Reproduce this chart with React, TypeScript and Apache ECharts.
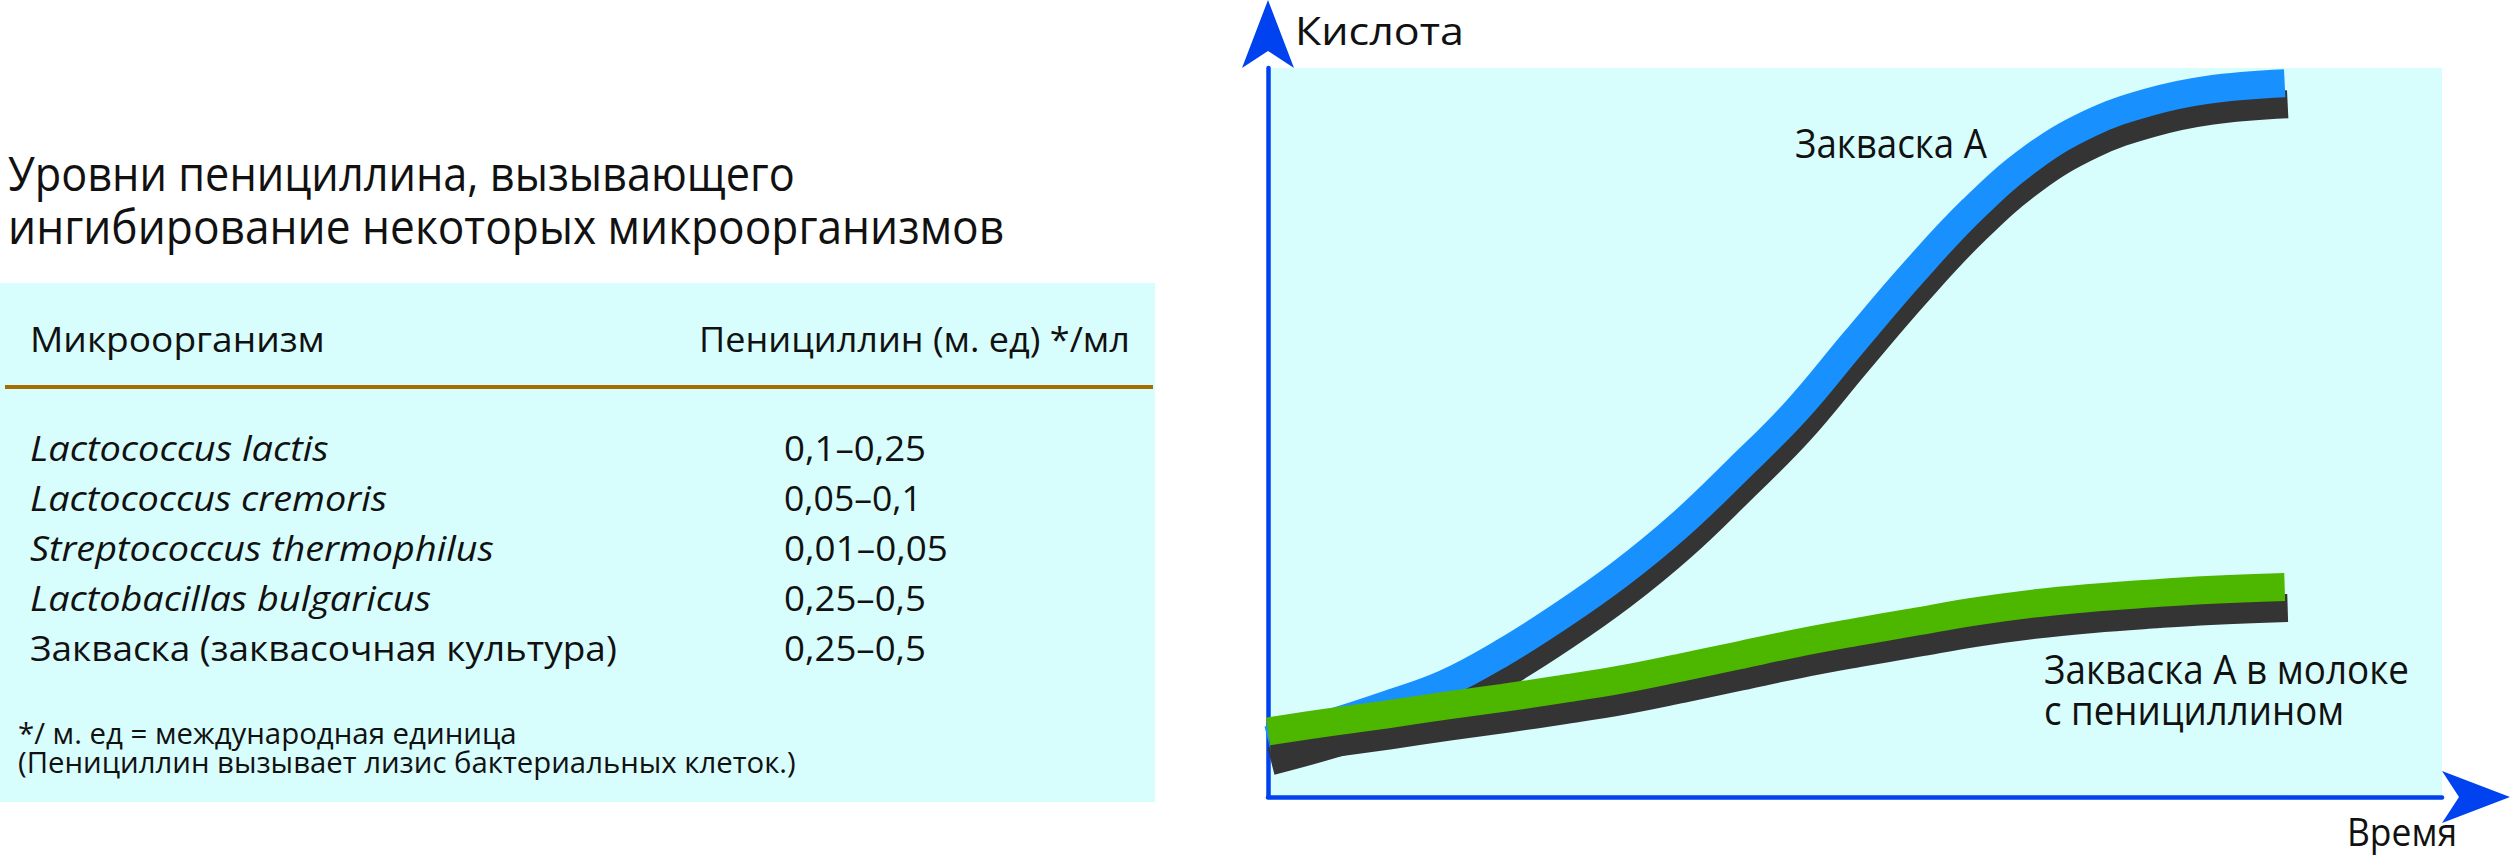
import React, { useEffect, useRef } from "react";
import * as echarts from "echarts";

// ---------- Data ----------
const titleLines = ["Уровни пенициллина, вызывающего", "ингибирование некоторых микроорганизмов"];
const columnHeaders = ["Микроорганизм", "Пенициллин (м. ед) */мл"];
const organisms = [
  "Lactococcus lactis",
  "Lactococcus cremoris",
  "Streptococcus thermophilus",
  "Lactobacillas bulgaricus",
  "Закваска (заквасочная культура)",
];
const organismItalic = [true, true, true, true, false];
const penicillinLevels = ["0,1–0,25", "0,05–0,1", "0,01–0,05", "0,25–0,5", "0,25–0,5"];
const footnotes = ["*/ м. ед = международная единица", "(Пенициллин вызывает лизис бактериальных клеток.)"];

const timeValues = [0, 5, 10, 15, 20, 25, 30, 35, 40, 45, 50, 55, 60, 65, 70, 75, 80, 86.6];
const acidStarterA = [7.8, 10.0, 12.6, 15.5, 19.8, 24.9, 30.6, 37.2, 44.9, 53.0, 62.6, 72.0, 80.6, 87.6, 92.4, 95.3, 97.0, 97.9];
const acidStarterAPenicillin = [9.0, 10.2, 11.3, 12.5, 13.6, 14.8, 16.1, 17.7, 19.4, 21.1, 22.6, 24.0, 25.4, 26.5, 27.3, 27.9, 28.4, 28.8];
const yAxisName = "Кислота";
const xAxisName = "Время";
const curveLabels = ["Закваска А", "Закваска А в молоке", "с пенициллином"];

// ---------- Layout (pixels) ----------
const FONT = '"Open Sans", "Noto Sans", sans-serif';
const W = 2510;
const H = 858;
const TEXT = "#111111";
const PANEL = "#d8fdfd";

let measureCtx: CanvasRenderingContext2D | null = null;
function fitScale(text: string, size: number, italic: boolean, target: number): number {
  if (!measureCtx) measureCtx = document.createElement("canvas").getContext("2d");
  if (!measureCtx) return 1;
  measureCtx.font = `${italic ? "italic " : ""}${size}px "Open Sans"`;
  const w = measureCtx.measureText(text).width;
  return w > 0 ? target / w : 1;
}

function txt(text: string, x: number, y: number, size: number, target: number, italic = false) {
  return {
    type: "text",
    x,
    y,
    scaleX: fitScale(text, size, italic, target),
    silent: true,
    style: {
      text,
      fill: TEXT,
      fontSize: size,
      fontFamily: FONT,
      fontStyle: italic ? "italic" : "normal",
      align: "left",
      verticalAlign: "middle",
    },
  };
}

const titleWidths = [787, 997];
const headerX = [30, 699];
const headerWidths = [295, 431];
const organismWidths = [299, 357, 464, 401, 587];
const levelWidths = [142, 138, 164, 142, 142];
const footnoteWidths = [499, 778];

function pairs(xs: number[], ys: number[]) {
  return xs.map((x, i) => [x, ys[i]]);
}

function buildOption() {
  const graphics: any[] = [];
  graphics.push({
    type: "rect",
    shape: { x: 0, y: 283, width: 1155, height: 519 },
    style: { fill: PANEL },
    silent: true,
    z: -10,
  });
  titleLines.forEach((t, i) => graphics.push(txt(t, 8, 173 + i * 52, 47, titleWidths[i])));
  columnHeaders.forEach((t, i) => graphics.push(txt(t, headerX[i], 338, 35, headerWidths[i])));
  graphics.push({
    type: "line",
    shape: { x1: 5, y1: 387, x2: 1153, y2: 387 },
    style: { stroke: "#a66d00", lineWidth: 4 },
    silent: true,
  });
  organisms.forEach((t, i) =>
    graphics.push(txt(t, 30, 447.5 + i * 50, 35, organismWidths[i], organismItalic[i]))
  );
  penicillinLevels.forEach((t, i) => graphics.push(txt(t, 784, 447.5 + i * 50, 35, levelWidths[i])));
  footnotes.forEach((t, i) => graphics.push(txt(t, 18, 733 + i * 29, 29, footnoteWidths[i])));

  graphics.push(txt(yAxisName, 1295, 30, 39, 169));
  graphics.push(txt(xAxisName, 2347, 832, 38, 110));
  graphics.push(txt(curveLabels[0], 1795, 142, 40, 192));
  graphics.push(txt(curveLabels[1], 2044, 668, 40, 365));
  graphics.push(txt(curveLabels[2], 2044, 709, 40, 300));

  const axisColor = "#0042f0";
  const hiddenAxis = { type: "value", min: 0, max: 100, show: false };
  const arrowLine = {
    show: true,
    symbol: ["none", "arrow"],
    symbolSize: [39, 68],
    symbolOffset: [0, 68],
    lineStyle: { color: axisColor, width: 4.5 },
  };

  const lineBase = {
    type: "line",
    showSymbol: false,
    symbol: "none",
    smooth: 0.4,
    clip: false,
    silent: true,
  };

  return {
    animation: false,
    backgroundColor: "#ffffff",
    grid: [
      { left: 1268, top: 68, right: W - 2442, bottom: H - 797, show: true, backgroundColor: PANEL, borderWidth: 0 },
      { left: 1271, top: 89, right: W - 2445, bottom: H - 818, show: false },
    ],
    xAxis: [
      {
        type: "value",
        gridIndex: 0,
        min: 0,
        max: 100,
        axisLine: arrowLine,
        axisTick: { show: false },
        axisLabel: { show: false },
        splitLine: { show: false },
      },
      { ...hiddenAxis, gridIndex: 1 },
    ],
    yAxis: [
      {
        type: "value",
        gridIndex: 0,
        min: 0,
        max: 100,
        axisLine: arrowLine,
        axisTick: { show: false },
        axisLabel: { show: false },
        splitLine: { show: false },
      },
      { ...hiddenAxis, gridIndex: 1 },
    ],
    series: [
      {
        ...lineBase,
        name: curveLabels[0] + " (тень)",
        xAxisIndex: 1,
        yAxisIndex: 1,
        data: pairs(timeValues, acidStarterA),
        lineStyle: { color: "#343434", width: 28, cap: "butt" },
      },
      {
        ...lineBase,
        name: curveLabels[0],
        xAxisIndex: 0,
        yAxisIndex: 0,
        data: pairs(timeValues, acidStarterA),
        lineStyle: { color: "#1891ff", width: 28, cap: "butt" },
      },
      {
        ...lineBase,
        name: curveLabels[1] + " (тень)",
        xAxisIndex: 1,
        yAxisIndex: 1,
        data: pairs(timeValues, acidStarterAPenicillin),
        lineStyle: { color: "#343434", width: 28, cap: "butt" },
      },
      {
        ...lineBase,
        name: curveLabels[1],
        xAxisIndex: 0,
        yAxisIndex: 0,
        data: pairs(timeValues, acidStarterAPenicillin),
        lineStyle: { color: "#4db700", width: 28, cap: "butt" },
      },
    ],
    graphic: graphics,
  };
}

export default function App() {
  const ref = useRef<HTMLDivElement | null>(null);
  useEffect(() => {
    document.body.style.margin = "0";
    if (!ref.current) return;
    const chart = echarts.init(ref.current, null, { renderer: "svg" });
    chart.setOption(buildOption() as any);
    return () => chart.dispose();
  }, []);
  return <div ref={ref} style={{ width: W, height: H }} />;
}
